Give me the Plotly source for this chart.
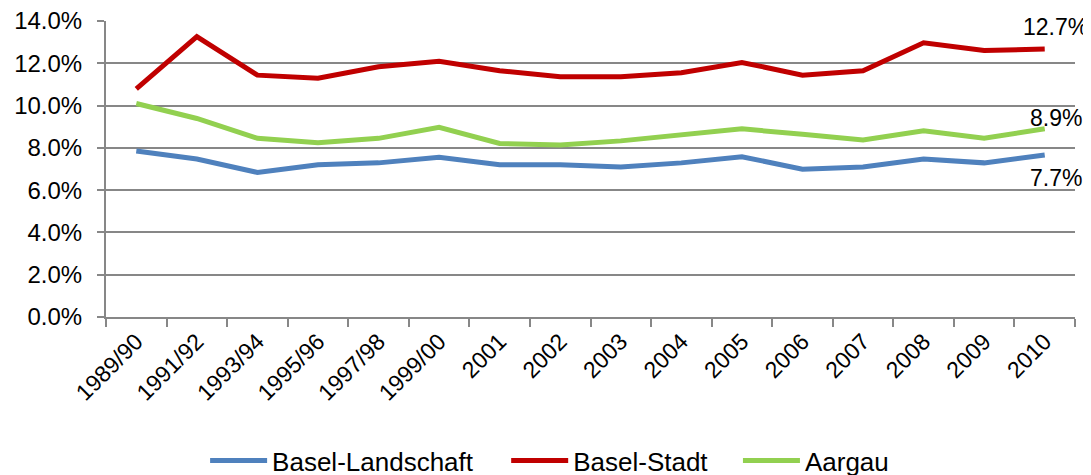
import plotly.graph_objects as go

categories = ["1989/90", "1991/92", "1993/94", "1995/96", "1997/98", "1999/00",
              "2001", "2002", "2003", "2004", "2005", "2006", "2007", "2008", "2009", "2010"]

basel_landschaft = [0.0785, 0.0747, 0.0684, 0.0720, 0.0729, 0.0756, 0.0720, 0.0720,
                    0.0710, 0.0729, 0.0758, 0.0699, 0.0710, 0.0747, 0.0729, 0.0766]
basel_stadt = [0.1079, 0.1326, 0.1144, 0.1129, 0.1184, 0.1210, 0.1165, 0.1136,
               0.1136, 0.1155, 0.1204, 0.1144, 0.1165, 0.1297, 0.1260, 0.1268]
aargau = [0.1010, 0.0939, 0.0845, 0.0824, 0.0845, 0.0897, 0.0821, 0.0813,
          0.0833, 0.0864, 0.0890, 0.0864, 0.0837, 0.0881, 0.0845, 0.0890]

series_names = ["Basel-Landschaft", "Basel-Stadt", "Aargau"]
series_values = [basel_landschaft, basel_stadt, aargau]
series_colors = ["#4F81BD", "#C00000", "#92D050"]
legend_ids = ["legend", "legend2", "legend3"]
legend_x = [0.182, 0.460, 0.674]

end_labels = ["7.7%", "12.7%", "8.9%"]
end_shifts = [(11, -23), (11, 22), (11, 11)]

FONT = "Liberation Sans, Arial, sans-serif"
GRID = "#878787"

fig = go.Figure()
for name, vals, col, lid in zip(series_names, series_values, series_colors, legend_ids):
    fig.add_trace(go.Scatter(
        x=categories, y=vals, name=name, mode="lines",
        line=dict(color=col, width=5),
        legend=lid,
        hoverinfo="skip",
    ))

last_idx = len(categories) - 1
for vals, lab, (dx, dy) in zip(series_values, end_labels, end_shifts):
    fig.add_annotation(
        x=last_idx, y=vals[-1], xref="x", yref="y",
        text=lab, showarrow=False, xshift=dx, yshift=dy,
        xanchor="center", yanchor="middle",
        font=dict(family=FONT, size=23, color="#000000"),
    )

legend_common = dict(
    orientation="h",
    xref="container", yref="container",
    xanchor="left",
    y=0.031, yanchor="middle",
    font=dict(family=FONT, size=26, color="#000000"),
    itemwidth=57,
    bgcolor="rgba(0,0,0,0)",
)
legend_layout = {lid: dict(legend_common, x=lx) for lid, lx in zip(legend_ids, legend_x)}

fig.update_layout(
    width=1083, height=467,
    margin=dict(l=98, r=16, t=13, b=158, autoexpand=False),
    plot_bgcolor="white", paper_bgcolor="white",
    font=dict(family=FONT, size=22, color="#000000"),
    showlegend=True,
    **legend_layout,
    xaxis=dict(
        type="category",
        automargin=False,
        tickangle=-45,
        tickson="boundaries",
        ticks="outside", ticklen=8, tickwidth=2, tickcolor=GRID,
        showline=True, linecolor=GRID, linewidth=2,
        showgrid=False,
        tickfont=dict(family=FONT, size=23, color="#000000"),
        range=[-0.5, len(categories) - 0.5],
    ),
    yaxis=dict(
        automargin=False,
        range=[0, 0.14], dtick=0.02, tickformat=".1%",
        ticks="outside", ticklen=7, tickwidth=2, tickcolor=GRID,
        showline=True, linecolor=GRID, linewidth=2,
        showgrid=True, gridcolor=GRID, gridwidth=2,
        zeroline=False,
        ticklabeloverflow="allow",
        tickfont=dict(family=FONT, size=24, color="#000000"),
        ticklabelstandoff=10,
    ),
)

fig.write_html("out.html")
